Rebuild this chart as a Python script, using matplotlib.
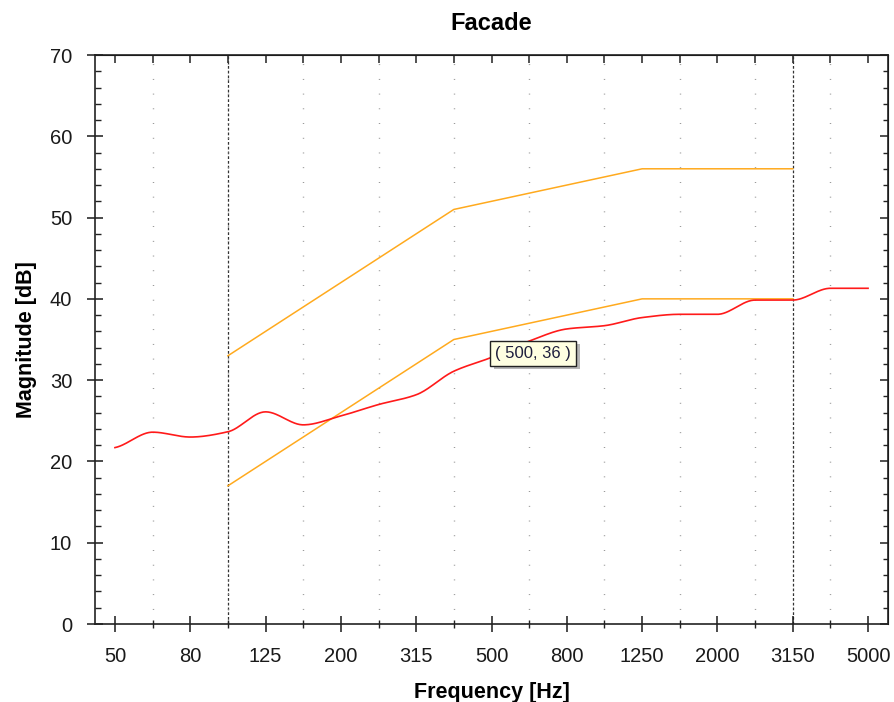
import numpy as np
import matplotlib
matplotlib.use("Agg")
import matplotlib.pyplot as plt
import matplotlib.patheffects as pe
from matplotlib.ticker import MultipleLocator

plt.rcParams['font.family'] = ['Liberation Sans', 'DejaVu Sans']

# third-octave bands shown on the chart
bands = ['50', '63', '80', '100', '125', '160', '200', '250', '315', '400', '500',
         '630', '800', '1000', '1250', '1600', '2000', '2500', '3150', '4000', '5000']

# measured facade level (red)
measured = [21.7, 23.6, 23.0, 23.65, 26.1, 24.5, 25.6, 27.0, 28.2, 31.1, 32.8,
            34.8, 36.3, 36.7, 37.7, 38.1, 38.1, 39.85, 39.85, 41.3, 41.3]

# reference curves (orange), defined at a few bands
ref_bands = ['100', '400', '1250', '3150']
ref_upper = [33, 51, 56, 56]
ref_lower = [17, 35, 40, 40]

limit_bands = ['100', '3150']
tooltip = "( 500, 36 )"


def pchip(x, y, xs):
    # monotone cubic (Fritsch-Carlson) so the curve looks smooth like the original
    x = np.asarray(x, float)
    y = np.asarray(y, float)
    h = np.diff(x)
    d = np.diff(y) / h
    m = np.zeros_like(y)
    for k in range(1, len(y) - 1):
        if d[k - 1] * d[k] > 0:
            w1 = 2 * h[k] + h[k - 1]
            w2 = h[k] + 2 * h[k - 1]
            m[k] = (w1 + w2) / (w1 / d[k - 1] + w2 / d[k])
    m[0] = 0.5 * d[0]
    m[-1] = 0.5 * d[-1]
    idx = np.clip(np.searchsorted(x, xs) - 1, 0, len(x) - 2)
    t = (xs - x[idx]) / h[idx]
    h00 = 2 * t**3 - 3 * t**2 + 1
    h10 = t**3 - 2 * t**2 + t
    h01 = -2 * t**3 + 3 * t**2
    h11 = t**3 - t**2
    return h00 * y[idx] + h10 * h[idx] * m[idx] + h01 * y[idx + 1] + h11 * h[idx] * m[idx + 1]


pos = np.arange(len(bands))
xs = np.linspace(0, len(bands) - 1, 600)

fig = plt.figure(figsize=(8.94, 7.02), dpi=100)
ax = fig.add_axes([95 / 894, 78 / 702, 793 / 894, 569 / 702])

ref_pos = [bands.index(b) for b in ref_bands]
ax.plot(ref_pos, ref_upper, color='#FFAA1E', lw=1.1)
ax.plot(ref_pos, ref_lower, color='#FFAA1E', lw=1.1)
ax.plot(xs, pchip(pos, measured, xs), color='#FF1A1A', lw=1.2)

for b in limit_bands:
    ax.axvline(bands.index(b), color='#333333', lw=0.9, ls=(0, (2.2, 1.6)), zorder=1)

ax.set_xlim(-0.53, len(bands) - 1 + 0.53)
ax.set_ylim(0, 70)

ax.set_xticks(pos[::2])
ax.set_xticklabels(bands[::2])
ax.set_xticks(pos[1::2], minor=True)
ax.yaxis.set_major_locator(MultipleLocator(10))
ax.yaxis.set_minor_locator(MultipleLocator(2))

ax.tick_params(which='major', direction='inout', length=12, width=1.1,
               labelsize=14.5, pad=10.5, colors='#1A1A1A')
ax.tick_params(which='minor', direction='inout', length=5.8, width=1.0, colors='#222222')
ax.tick_params(axis='y', which='minor', direction='in', length=4)

top = ax.secondary_xaxis('top')
top.set_xticks(pos)
top.set_xticklabels([])
top.tick_params(direction='in', length=5.8, width=1.1, colors='#222222')
right = ax.secondary_yaxis('right')
right.set_yticks(np.arange(0, 71, 10))
right.set_yticks(np.arange(0, 71, 2), minor=True)
right.set_yticklabels([])
right.tick_params(which='major', direction='in', length=5.8, width=1.1, colors='#222222')
right.tick_params(which='minor', direction='in', length=3.5, width=1.0, colors='#222222')

ax.grid(which='minor', axis='x', color='#888888', lw=1.0, ls=(0, (0.6, 10)))

for s in list(ax.spines.values()):
    s.set_linewidth(1.2)
    s.set_color('#222222')

ax.set_title('Facade', fontsize=17, fontweight='bold', pad=18)
ax.set_xlabel('Frequency [Hz]', fontsize=15.5, fontweight='bold', labelpad=11.5)
ax.set_ylabel('Magnitude [dB]', fontsize=15.5, fontweight='bold', labelpad=9)

t = ax.text(bands.index('500') + 0.1, 33.3, tooltip, fontsize=12, color='#1E1E3C',
            ha='left', va='center', zorder=5,
            bbox=dict(boxstyle='square,pad=0.3', fc='#FFFFE1', ec='#222222', lw=1.0))
t.get_bbox_patch().set_path_effects([
    pe.SimplePatchShadow(offset=(2.5, -2.5), shadow_rgbFace='#888888', alpha=0.6),
    pe.Normal()])

fig.savefig('out.png', dpi=100)
